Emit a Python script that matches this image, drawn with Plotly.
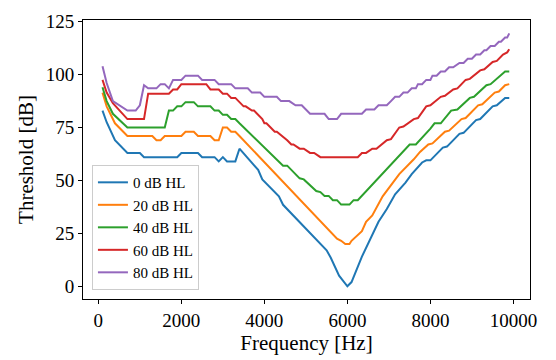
import plotly.graph_objects as go

# ---- data ----
labels = ["0 dB HL", "20 dB HL", "40 dB HL", "60 dB HL", "80 dB HL"]
colors = ["#1f77b4", "#ff7f0e", "#2ca02c", "#d62728", "#9467bd"]

f_0 = [100, 200, 400, 700, 1000, 1100, 1900, 2000, 2400, 2500, 2800, 2900, 3000, 3100, 3300, 3400,
       3850, 3950, 4350, 4450, 5500, 5600, 5800, 6000, 6100, 6350, 6750, 6950, 7150, 7400, 7550,
       7800, 7900, 8000, 8300, 8400, 8700, 8800, 9100, 9200, 9500, 9600, 9800, 9900]
v_0 = [83, 77.5, 69, 63, 63, 61, 61, 63, 63, 61, 61, 59, 61, 59, 59, 65,
       55, 50.5, 42.5, 38.5, 17, 13.5, 5, 0, 2, 14, 30.5, 36.5, 43.5, 49, 53,
       58.5, 59.5, 59.5, 65.5, 66, 72, 72.5, 78.5, 79, 85, 85.5, 89, 89]

f_20 = [100, 200, 400, 700, 1300, 1400, 1500, 1600, 2000, 2100, 2300, 2400, 2700, 2800, 2900, 3000,
        3100, 3200, 3300, 3400, 5750, 5850, 5950, 6050, 6100, 6350, 6450, 6600, 6850, 7050, 7250,
        7600, 7750, 7950, 8050, 8350, 8450, 8750, 8850, 9150, 9250, 9550, 9650, 9800, 9900]
v_20 = [91.5, 85, 77, 71, 71, 69, 69, 71, 71, 73, 73, 71, 71, 69, 69, 75,
        75, 73, 73, 71, 22.5, 21.5, 20, 20, 21.5, 26, 30.5, 33.5, 42.5, 48, 53,
        60, 63.5, 67, 67.5, 73, 73.5, 79, 79.5, 85.5, 86, 91.5, 92, 95, 95.5]

f_40 = [100, 200, 350, 700, 1600, 1700, 1800, 1900, 2000, 2100, 2300, 2400, 2700, 2800, 2900, 3000,
        3100, 3200, 3300, 3400, 4450, 4550, 4850, 4950, 5250, 5350, 5450, 5550, 5650, 5750, 5850,
        6050, 6150, 6250, 7500, 7650, 8000, 8100, 8250, 8500, 8650, 8950, 9050, 9350, 9450, 9700,
        9800, 9900]
v_40 = [94, 87.5, 81.5, 75, 75, 83, 83, 85, 85, 87, 87, 85, 85, 83, 83, 81,
        81, 79, 79, 77, 57, 57, 51, 50.5, 45, 44.5, 42.7, 42.7, 40.7, 40.7, 38.6,
        38.6, 40.7, 40.7, 67, 67, 74.5, 77, 77, 83, 83.5, 89, 89.5, 95, 95.5, 100,
        101.5, 101.5]

f_60 = [100, 200, 350, 700, 1100, 1200, 1700, 1800, 1900, 2000, 2600, 2700, 2900, 3000, 3100, 3200,
        3300, 3400, 3500, 3550, 3700, 3750, 3950, 4000, 4050, 4250, 4300, 4550, 4650, 4700, 4850,
        4950, 5100, 5200, 5350, 6250, 6350, 6450, 6600, 6700, 6950, 7050, 7250, 7350, 7600, 7700,
        7900, 8000, 8250, 8350, 8550, 8650, 8850, 8950, 9200, 9300, 9500, 9600, 9750, 9850, 9900]
v_60 = [97.5, 91.5, 86.5, 79, 79, 91, 91, 93, 93, 95.5, 95.5, 93, 93, 91, 91, 89,
        89, 87, 85, 85, 83, 83, 79, 77, 77, 73, 73, 69, 67, 67, 65,
        65, 63, 63, 61, 61, 63, 63, 65, 65, 69, 69.5, 75, 75.5, 79, 79.5,
        85, 85.5, 89.5, 90, 93, 93.5, 97.5, 98, 102, 102.5, 106, 106.5, 109.5, 110.5, 112]

f_80 = [100, 200, 350, 500, 700, 900, 1000, 1100, 1200, 1400, 1500, 1600, 1700, 1800, 2000, 2100,
        2400, 2500, 2800, 2900, 3200, 3300, 3600, 3700, 3900, 4000, 4300, 4400, 4600, 4750, 4900,
        5100, 5450, 5550, 5750, 5850, 6350, 6450, 6650, 6750, 6950, 7050, 7150, 7250, 7350, 7450,
        7550, 7650, 7700, 7800, 7900, 8000, 8050, 8150, 8250, 8350, 8450, 8550, 8700, 8800, 8900,
        9000, 9100, 9200, 9300, 9350, 9450, 9550, 9650, 9700, 9800, 9850, 9900]
v_80 = [104, 96, 87.5, 85.5, 83, 83, 85.5, 95, 93.5, 93.5, 95.5, 95.5, 93.5, 97.5, 97.5, 99.5,
        99.5, 97.5, 97.5, 95.5, 95.5, 93.5, 93.5, 91.5, 91.5, 89.5, 89.5, 87.5, 87.5, 85.5, 85.5,
        81.5, 81.5, 79, 79, 81.5, 81.5, 83.5, 83.5, 85.5, 85.5, 87.5, 89.5, 89.5, 91.5, 91.5,
        93.5, 93.5, 95.5, 95.5, 97.5, 97.5, 99.5, 99.5, 101.5, 101.5, 103.5, 103.5, 105.5, 105.5, 107.5,
        107.5, 109.5, 109.5, 111.5, 111.5, 113.5, 113.5, 115.5, 115.5, 117.5, 117.5, 119.5]

xticks = [0, 2000, 4000, 6000, 8000, 10000]
yticks = [0, 25, 50, 75, 100, 125]

series_f = [f_0, f_20, f_40, f_60, f_80]
series_v = [v_0, v_20, v_40, v_60, v_80]

FONT = "'Liberation Serif', 'Times New Roman', Times, serif"

fig = go.Figure()
for lab, col, fx, vy in zip(labels, colors, series_f, series_v):
    fig.add_trace(go.Scatter(x=fx, y=vy, mode="lines", name=lab,
                             line=dict(color=col, width=2)))

axis_common = dict(showline=True, linecolor="black", linewidth=1, mirror=True,
                   ticks="outside", ticklen=4, tickcolor="black", tickwidth=1,
                   showgrid=False, zeroline=False,
                   tickfont=dict(family=FONT, size=19, color="black"))

fig.update_layout(
    width=556, height=360,
    margin=dict(l=83, r=26, t=11, b=59),
    plot_bgcolor="white", paper_bgcolor="white",
    font=dict(family=FONT, color="black"),
    showlegend=True,
    legend=dict(x=0.02, y=0.032, xanchor="left", yanchor="bottom",
                bgcolor="rgba(255,255,255,0.8)", bordercolor="#cccccc", borderwidth=1,
                font=dict(family=FONT, size=15, color="black"),
                itemwidth=30, tracegroupgap=0),
    xaxis=dict(range=[-370, 10400], tickvals=xticks, ticktext=[str(t) for t in xticks],
               title=dict(text="Frequency [Hz]", font=dict(family=FONT, size=21, color="black"),
                          standoff=4),
               **axis_common),
    yaxis=dict(range=[-6, 125.8], tickvals=yticks, ticktext=[str(t) for t in yticks],
               title=dict(text="Threshold [dB]", font=dict(family=FONT, size=21, color="black"),
                          standoff=6),
               **axis_common),
)

fig.write_html("out.html")
